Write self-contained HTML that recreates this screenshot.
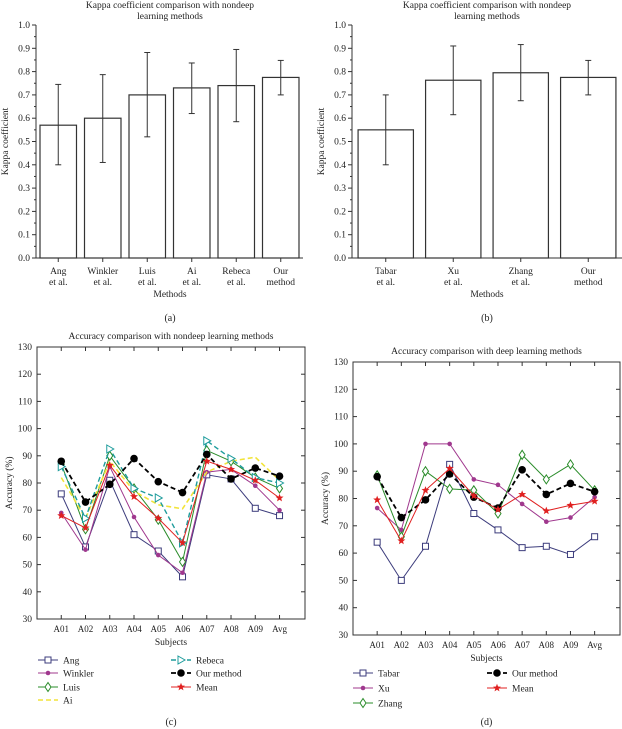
<!DOCTYPE html>
<html><head><meta charset="utf-8"><style>
html,body{margin:0;padding:0;background:#fff;}
svg{display:block;font-family:"Liberation Serif",serif;}
</style></head><body>
<svg id="fig" width="622" height="729" viewBox="0 0 622 729"></svg>
<script>
const kappaAcats=[["Ang","et al."],["Winkler","et al."],["Luis","et al."],["Ai","et al."],["Rebeca","et al."],["Our","method"]];
const kappaAvals=[0.57,0.60,0.70,0.73,0.74,0.775];
const kappaAlo=[0.40,0.41,0.52,0.62,0.585,0.70];
const kappaAhi=[0.745,0.787,0.882,0.837,0.895,0.848];
const kappaBcats=[["Tabar","et al."],["Xu","et al."],["Zhang","et al."],["Our","method"]];
const kappaBvals=[0.55,0.763,0.795,0.775];
const kappaBlo=[0.40,0.615,0.675,0.70];
const kappaBhi=[0.70,0.91,0.916,0.848];
const kappaTicks=[0,0.1,0.2,0.3,0.4,0.5,0.6,0.7,0.8,0.9,1.0];
const subjects=["A01","A02","A03","A04","A05","A06","A07","A08","A09","Avg"];
const accTicks=[30,40,50,60,70,80,90,100,110,120,130];
const angVals=[76,56.5,81,61,55,45.5,83,81.5,70.7,68];
const winklerVals=[69,55.5,86,67.5,53.5,47,84,85,79,70];
const luisVals=[87,63,90,78,66.5,51,92,88,82,78];
const aiVals=[82,67,88,77,72,70.5,84,88,89.5,81];
const rebecaVals=[86,67,92.5,78,74.5,58,95.5,89,82,80];
const ourVals=[88,73,79.5,89,80.5,76.5,90.5,81.5,85.5,82.5];
const meanCVals=[68,63.5,86.5,75,67,58,88,85,81,74.5];
const tabarVals=[64,50,62.5,92.5,74.5,68.5,62,62.5,59.5,66];
const xuVals=[76.5,68.5,100,100,87,85,78,71.5,73,80.5];
const zhangVals=[88.5,66,90,83.5,83,74.5,96,87,92.5,83];
const meanDVals=[79.5,64.5,83,91,81,76,81.5,75.5,77.5,79];

const NS="http://www.w3.org/2000/svg";
const svg=document.getElementById('fig');
function el(tag,attrs,parent,text){const e=document.createElementNS(NS,tag);for(const k in attrs)e.setAttribute(k,attrs[k]);if(text!==undefined)e.textContent=text;(parent||svg).appendChild(e);return e;}

function barPanel(name,x0,x1,yTop,yBot,cats,vals,lo,hi,title,label,cx){
  const g=el('g',{},svg);
  
  
  const y=v=>yBot-(v/1.0)*(yBot-yTop);
  const band=(x1-x0)/cats.length;
  const t1=el('text',{x:cx,y:8,'font-size':9.5,'text-anchor':'middle',fill:'#222'},g,title[0]);
  
  
  el('text',{x:cx,y:19,'font-size':9.5,'text-anchor':'middle',fill:'#222'},g,title[1]);
  el('line',{x1:x0,y1:yTop,x2:x0,y2:yBot,stroke:'#333','stroke-width':1},g);
  el('line',{x1:x0,y1:yBot,x2:x1,y2:yBot,stroke:'#333','stroke-width':1},g);
  kappaTicks.forEach(t=>{
    el('line',{x1:x0-4,y1:y(t),x2:x0,y2:y(t),stroke:'#333'},g);
    if(t<0.95) el('line',{x1:x0-2,y1:y(t+0.05),x2:x0,y2:y(t+0.05),stroke:'#333'},g);
    const tl=el('text',{x:x0-6,y:y(t)+3,'font-size':9.5,'text-anchor':'end',fill:'#222'},g,t.toFixed(1));
    
    
  });
  const yl=el('text',{transform:`translate(${x0-28},${(yTop+yBot)/2}) rotate(-90)`,'font-size':9.5,'text-anchor':'middle',fill:'#222'},g,'Kappa coefficient');
  
  
  cats.forEach((c,i)=>{
    const cxb=x0+band*(i+0.5);
    const bw=band*0.82;
    const r=el('rect',{x:cxb-bw/2,y:y(vals[i]),width:bw,height:yBot-y(vals[i]),fill:'#fff',stroke:'#333','stroke-width':1.2},g);
    
    
    el('line',{x1:cxb,y1:y(lo[i]),x2:cxb,y2:y(hi[i]),stroke:'#333','stroke-width':1},g);
    el('line',{x1:cxb-3,y1:y(lo[i]),x2:cxb+3,y2:y(lo[i]),stroke:'#333'},g);
    el('line',{x1:cxb-3,y1:y(hi[i]),x2:cxb+3,y2:y(hi[i]),stroke:'#333'},g);
    el('line',{x1:cxb,y1:yBot,x2:cxb,y2:yBot+4,stroke:'#333'},g);
    const xl=el('text',{x:cxb,y:yBot+16,'font-size':9.5,'text-anchor':'middle',fill:'#222'},g,c[0]);
    
    
    el('text',{x:cxb,y:yBot+27,'font-size':9.5,'text-anchor':'middle',fill:'#222'},g,c[1]);
  });
  const xt=el('text',{x:cx,y:yBot+39,'font-size':9.5,'text-anchor':'middle',fill:'#222'},g,'Methods');
  
  
  const pl=el('text',{x:cx,y:yBot+63,'font-size':10,'text-anchor':'middle',fill:'#222'},g,label);
  
  
}
barPanel('panel-a-kappa-nondeep',36,303,25,258,kappaAcats,kappaAvals,kappaAlo,kappaAhi,["Kappa coefficient comparison with nondeep","learning methods"],"(a)",170);
barPanel('panel-b-kappa-deep',352,622,25,258,kappaBcats,kappaBvals,kappaBlo,kappaBhi,["Kappa coefficient comparison with nondeep","learning methods"],"(b)",487);

function marker(g,type,x,y,color){
  if(type==='square') el('rect',{x:x-3,y:y-3,width:6,height:6,fill:'#fff',stroke:color,'stroke-width':1},g);
  else if(type==='asterisk'){el('circle',{cx:x,cy:y,r:2.3,fill:color},g);}
  else if(type==='diamond') el('path',{d:`M${x} ${y-4.5}L${x+3} ${y}L${x} ${y+4.5}L${x-3} ${y}Z`,fill:'#fff',stroke:color,'stroke-width':1},g);
  else if(type==='triangle') el('path',{d:`M${x-3} ${y-4}L${x+4} ${y}L${x-3} ${y+4}Z`,fill:'#fff',stroke:color,'stroke-width':1},g);
  else if(type==='circle') el('circle',{cx:x,cy:y,r:3.8,fill:'#000'},g);
  else if(type==='star'){let d='';for(let k=0;k<10;k++){const a=-Math.PI/2+k*Math.PI/5;const r=k%2?1.8:4.2;d+=(k?'L':'M')+(x+r*Math.cos(a)).toFixed(2)+' '+(y+r*Math.sin(a)).toFixed(2);}el('path',{d:d+'Z',fill:color},g);}
}

function linePanel(name,x0,x1,yTop,yBot,series,title,label,legendCfg){
  const g=el('g',{},svg);
  
  
  const cx=(x0+x1)/2;
  const y=v=>yBot-(v-30)/100*(yBot-yTop);
  const step=(x1-x0)/(subjects.length+1.05);
  const x=i=>x0+step*(i+1);
  const tt=el('text',{x:cx,y:yTop-8,'font-size':9.5,'text-anchor':'middle',fill:'#222'},g,title);
  
  
  el('rect',{x:x0,y:yTop,width:x1-x0,height:yBot-yTop,fill:'none',stroke:'#333','stroke-width':1},g);
  accTicks.forEach(t=>{
    el('line',{x1:x0,y1:y(t),x2:x0+4,y2:y(t),stroke:'#333'},g);
    el('line',{x1:x1,y1:y(t),x2:x1-4,y2:y(t),stroke:'#333'},g);
    const tl=el('text',{x:x0-5,y:y(t)+3,'font-size':9.5,'text-anchor':'end',fill:'#222'},g,t);
    
    
  });
  const yl=el('text',{transform:`translate(${x0-25},${(yTop+yBot)/2}) rotate(-90)`,'font-size':9.5,'text-anchor':'middle',fill:'#222'},g,'Accuracy (%)');
  
  
  subjects.forEach((s,i)=>{
    el('line',{x1:x(i),y1:yBot,x2:x(i),y2:yBot-4,stroke:'#333'},g);
    el('line',{x1:x(i),y1:yTop,x2:x(i),y2:yTop+4,stroke:'#333'},g);
    const xl=el('text',{x:x(i),y:yBot+13,'font-size':9,'text-anchor':'middle',fill:'#222'},g,s);
    
    
  });
  const xt=el('text',{x:cx,y:yBot+26,'font-size':9.5,'text-anchor':'middle',fill:'#222'},g,'Subjects');
  
  
  series.forEach(s=>{
    const sg=el('g',{},g);
    
    
    const pts=s.vals.map((v,i)=>x(i).toFixed(1)+','+y(v).toFixed(1)).join(' ');
    const pl=el('polyline',{points:pts,fill:'none',stroke:s.color,'stroke-width':s.w||1,'stroke-dasharray':s.dash||'none'},sg);
    
    
    if(s.marker) s.vals.forEach((v,i)=>marker(sg,s.marker,x(i),y(v),s.color));
  });
  series.forEach((s,k)=>{
    const pos=legendCfg[k];
    const lg=el('g',{},g);
    
    
    el('line',{x1:pos[0],y1:pos[1],x2:pos[0]+20,y2:pos[1],stroke:s.color,'stroke-width':s.w||1,'stroke-dasharray':s.dash||'none'},lg);
    if(s.marker) marker(lg,s.marker,pos[0]+10,pos[1],s.color);
    el('text',{x:pos[0]+25,y:pos[1]+3.5,'font-size':9.5,fill:'#222'},lg,s.name);
  });
  const pl=el('text',{x:cx,y:label[1],'font-size':10,'text-anchor':'middle',fill:'#222'},g,label[0]);
  
  
}

linePanel('panel-c-accuracy-nondeep',37,305,347,619,[
  {key:'ang',name:'Ang',vals:angVals,color:'#3c3c7c',marker:'square'},
  {key:'winkler',name:'Winkler',vals:winklerVals,color:'#a0388e',marker:'asterisk'},
  {key:'luis',name:'Luis',vals:luisVals,color:'#2a8c2a',marker:'diamond'},
  {key:'ai',name:'Ai',vals:aiVals,color:'#f2e43a',dash:'5,3',w:1.6},
  {key:'rebeca',name:'Rebeca',vals:rebecaVals,color:'#1e9c9c',dash:'5,3',w:1.4,marker:'triangle'},
  {key:'our',name:'Our method',vals:ourVals,color:'#000',dash:'5,3',w:1.8,marker:'circle'},
  {key:'mean',name:'Mean',vals:meanCVals,color:'#e02020',marker:'star'}
],'Accuracy comparison with nondeep learning methods',['(c)',725],
 [[38,660],[38,673],[38,687],[38,700],[171,660],[171,673],[171,687]]);

linePanel('panel-d-accuracy-deep',353,620,362,635,[
  {key:'tabar',name:'Tabar',vals:tabarVals,color:'#3c3c7c',marker:'square'},
  {key:'xu',name:'Xu',vals:xuVals,color:'#a0388e',marker:'asterisk'},
  {key:'zhang',name:'Zhang',vals:zhangVals,color:'#2a8c2a',marker:'diamond'},
  {key:'our',name:'Our method',vals:ourVals,color:'#000',dash:'5,3',w:1.8,marker:'circle'},
  {key:'mean',name:'Mean',vals:meanDVals,color:'#e02020',marker:'star'}
],'Accuracy comparison with deep learning methods',['(d)',725],
 [[353,673],[353,688],[353,703],[487,673],[487,688]]);
</script>
</body></html>
